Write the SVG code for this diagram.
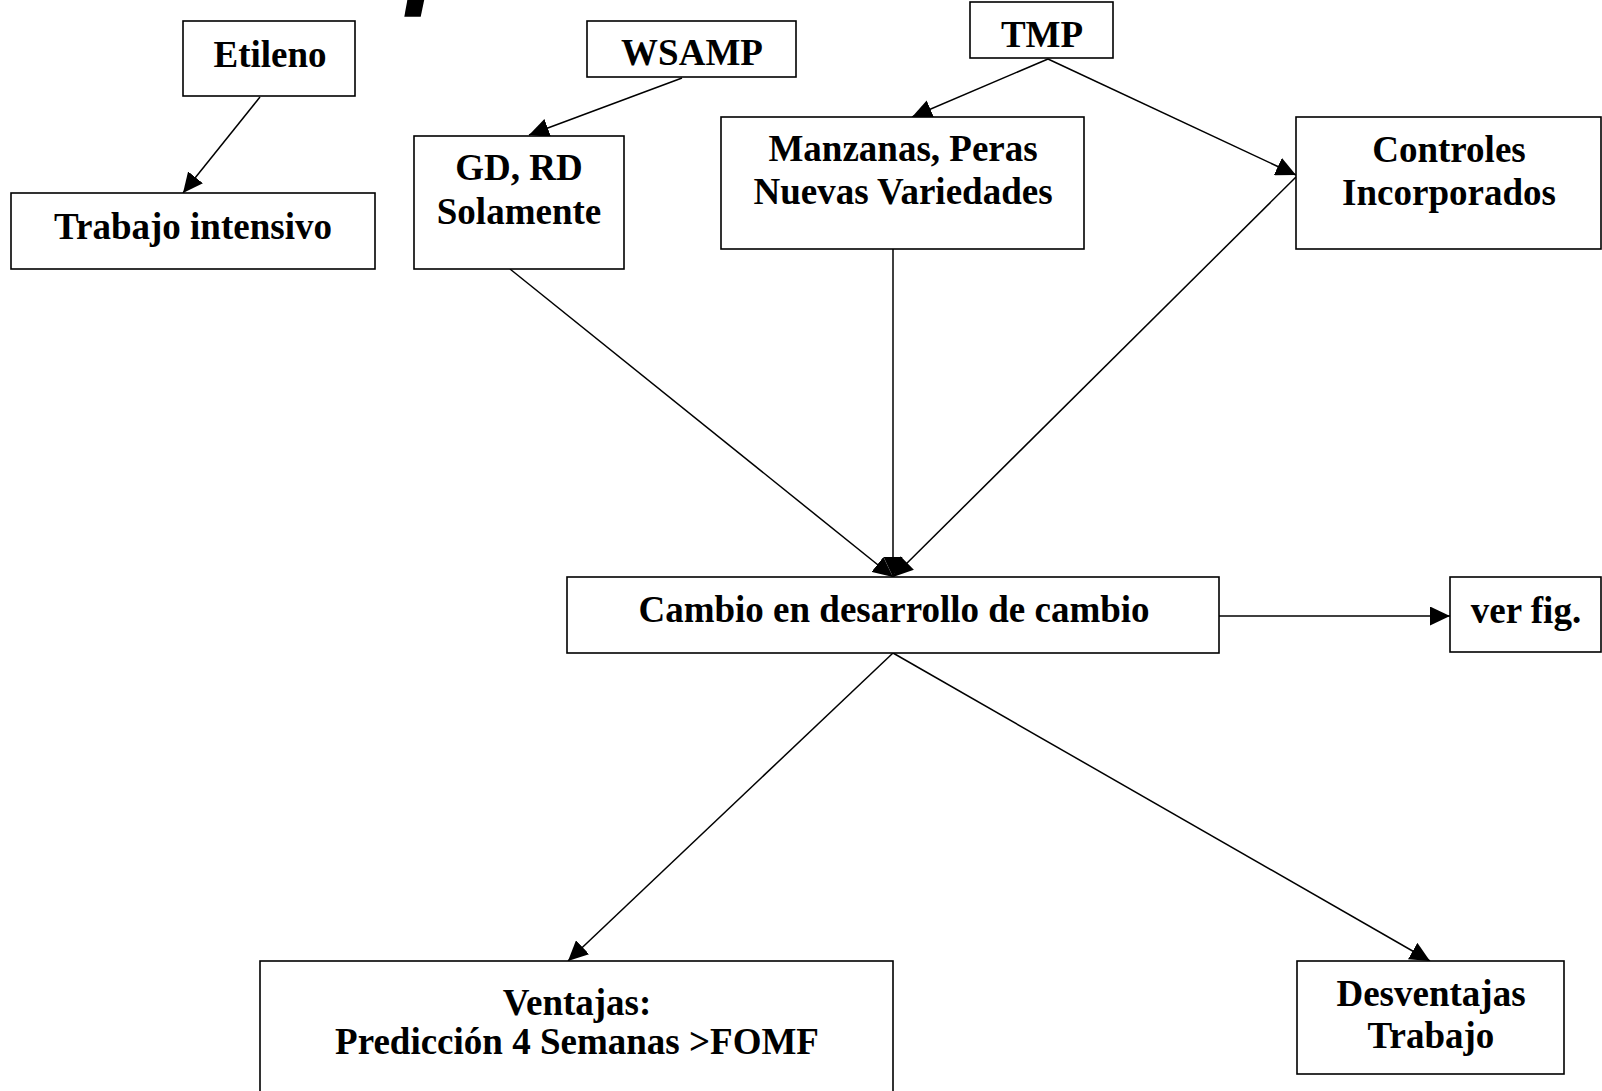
<svg xmlns="http://www.w3.org/2000/svg" width="1602" height="1091" viewBox="0 0 1602 1091">
  <style>
    .box { fill: #ffffff; stroke: #000000; stroke-width: 1.6; }
    .lbl { font-family: "Liberation Serif", "Times New Roman", serif; font-weight: bold; font-size: 37px; fill: #000000; text-anchor: middle; }
    .edge { stroke: #000000; stroke-width: 1.5; fill: none; marker-end: url(#head); }
  </style>
  <defs>
    <marker id="head" markerUnits="userSpaceOnUse" markerWidth="20" markerHeight="19" viewBox="0 0 20 19" refX="20" refY="9.5" orient="auto">
      <path d="M0,0 L20,9.5 L0,19 z" fill="#000000"/>
    </marker>
  </defs>
  <rect width="1602" height="1091" fill="#ffffff"/>

  <!-- dark stroke fragment at the top edge -->
  <polygon points="407.7,-2 424.6,-2 420.7,16.7 404.3,16.7" fill="#000000"/>

  <g id="connectors">
    <line class="edge" x1="260" y1="97" x2="183" y2="193"/>
    <line class="edge" x1="682" y1="78" x2="529" y2="135"/>
    <line class="edge" x1="1048" y1="59" x2="912" y2="117"/>
    <line class="edge" x1="1048" y1="59" x2="1296" y2="175"/>
    <line class="edge" x1="510" y1="269" x2="893" y2="577"/>
    <line class="edge" x1="893" y1="249" x2="893" y2="577"/>
    <line class="edge" x1="1296" y1="177" x2="893" y2="577"/>
    <line class="edge" x1="1219" y1="616" x2="1450" y2="616"/>
    <line class="edge" x1="893" y1="653" x2="568" y2="961"/>
    <line class="edge" x1="893" y1="653" x2="1430" y2="961"/>
  </g>

  <g id="etileno">
    <rect class="box" x="183" y="21" width="172" height="75"/>
    <text class="lbl" x="270" y="67">Etileno</text>
  </g>
  <g id="trabajo-intensivo">
    <rect class="box" x="11" y="193" width="364" height="76"/>
    <text class="lbl" x="193" y="239">Trabajo intensivo</text>
  </g>
  <g id="wsamp">
    <rect class="box" x="587" y="21" width="209" height="56"/>
    <text class="lbl" x="692" y="65">WSAMP</text>
  </g>
  <g id="tmp">
    <rect class="box" x="970" y="2" width="143" height="56"/>
    <text class="lbl" x="1042" y="47">TMP</text>
  </g>
  <g id="gd-rd">
    <rect class="box" x="414" y="136" width="210" height="133"/>
    <text class="lbl" x="519" y="180">GD, RD</text>
    <text class="lbl" x="519" y="224">Solamente</text>
  </g>
  <g id="manzanas">
    <rect class="box" x="721" y="117" width="363" height="132"/>
    <text class="lbl" x="903" y="161">Manzanas, Peras</text>
    <text class="lbl" x="903" y="204">Nuevas Variedades</text>
  </g>
  <g id="controles">
    <rect class="box" x="1296" y="117" width="305" height="132"/>
    <text class="lbl" x="1449" y="162">Controles</text>
    <text class="lbl" x="1449" y="205">Incorporados</text>
  </g>
  <g id="cambio">
    <rect class="box" x="567" y="577" width="652" height="76"/>
    <text class="lbl" x="894" y="622">Cambio en desarrollo de cambio</text>
  </g>
  <g id="ver-fig">
    <rect class="box" x="1450" y="577" width="151" height="75"/>
    <text class="lbl" x="1526" y="623">ver fig.</text>
  </g>
  <g id="ventajas">
    <rect class="box" x="260" y="961" width="633" height="150"/>
    <text class="lbl" x="577" y="1015">Ventajas:</text>
    <text class="lbl" x="577" y="1054">Predicción 4 Semanas &gt;FOMF</text>
  </g>
  <g id="desventajas">
    <rect class="box" x="1297" y="961" width="267" height="113"/>
    <text class="lbl" x="1431" y="1006">Desventajas</text>
    <text class="lbl" x="1431" y="1048">Trabajo</text>
  </g>
</svg>
